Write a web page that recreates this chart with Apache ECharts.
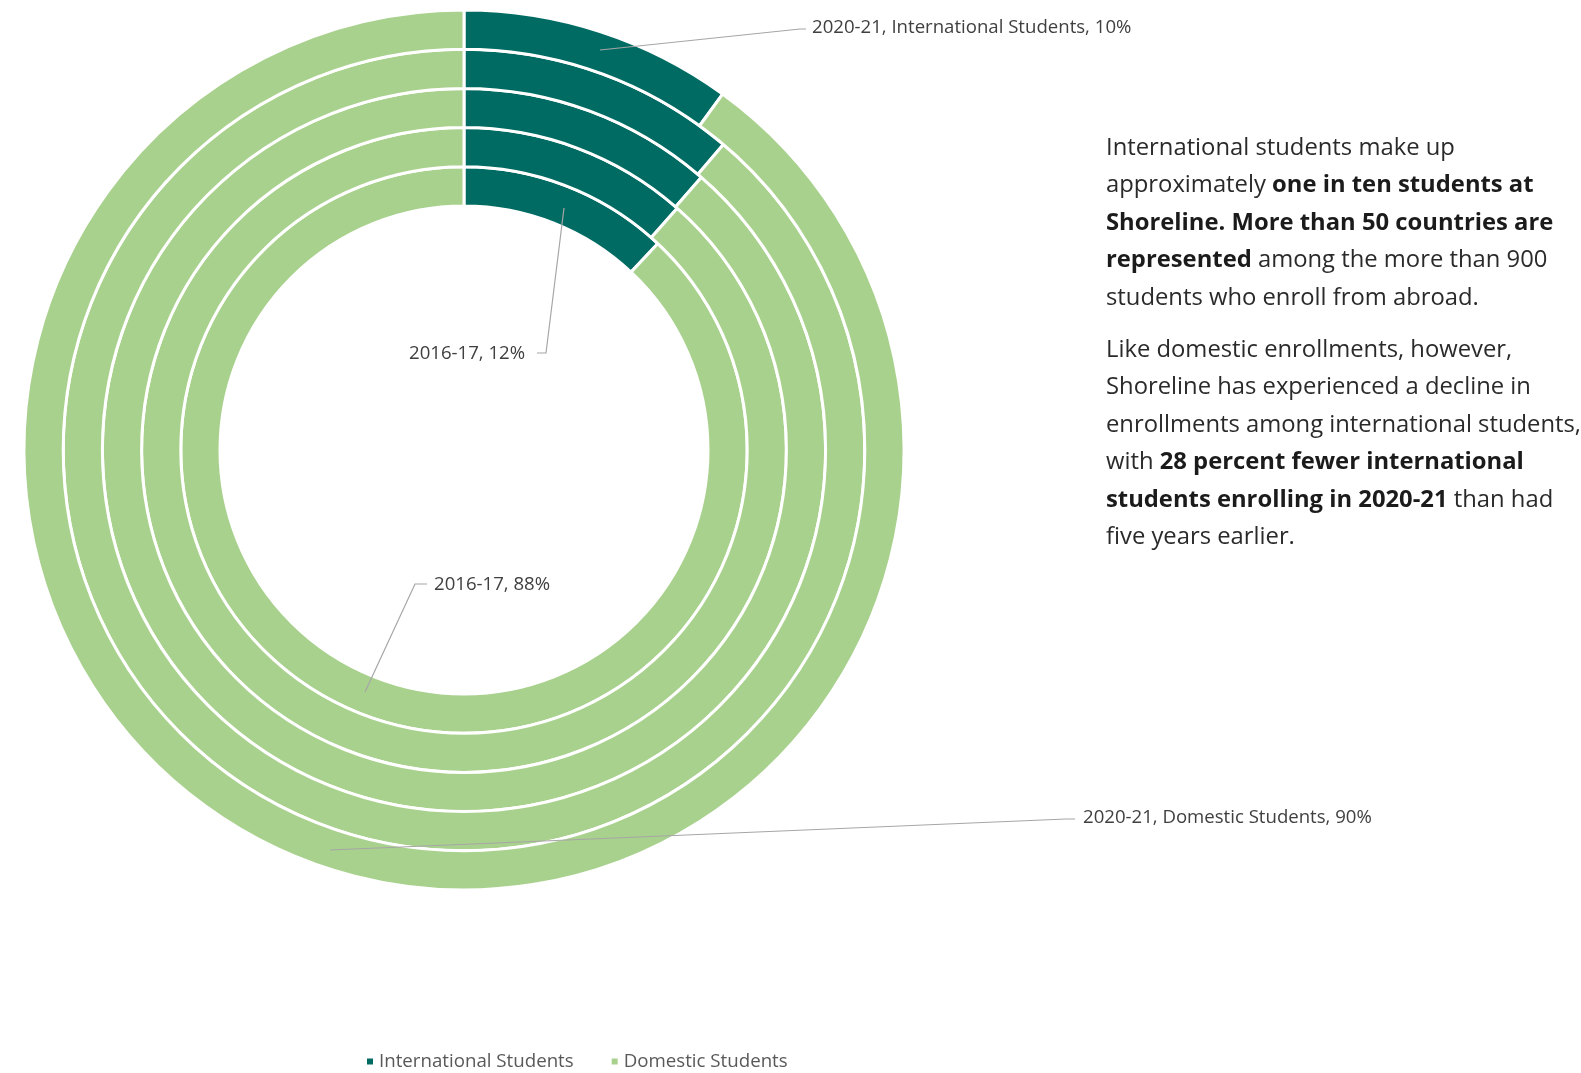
<!DOCTYPE html>
<html>
<head>
<meta charset="utf-8">
<title>International vs Domestic Students</title>
<script src="https://cdn.jsdelivr.net/npm/echarts@6/dist/echarts.min.js"></script>
<style>
  html, body { margin: 0; padding: 0; background: #ffffff; }
  #chart { width: 1581px; height: 1073px; }
</style>
</head>
<body>
<div id="chart"></div>
<script>
// Academic years, innermost ring first
const years = ['2016-17', '2017-18', '2018-19', '2019-20', '2020-21'];
const categories = ['International Students', 'Domestic Students'];
// Share of enrollment (%) per year
const internationalShare = [12, 11.5, 11.4, 11.2, 10];
const domesticShare = [88, 88.5, 88.6, 88.8, 90];

const COLORS = ['#006B63', '#A9D18E'];
const LABEL_FONT = '"Open Sans", Lato, sans-serif';
const TEXT_FONT = '"Open Sans", Roboto, sans-serif';

// Ring geometry
const center = [464, 450];
const innerRadius = 244;
const ringWidth = 39.2;

// Callout placement for the annotated slices (series-dataIndex)
const callouts = {
  '0-0': { x: 409, y: 354, line: [[564, 208], [546, 353], [537, 353]] },
  '0-1': { x: 434, y: 585, line: [[365, 692], [415, 584], [427, 584]] },
  '4-0': { x: 812, y: 28,  line: [[600, 50], [800, 29], [806, 29]] },
  '4-1': { x: 1083, y: 818, line: [[330, 850], [1066, 819], [1075, 819]] }
};

const lastRing = years.length - 1;

const series = years.map((year, i) => {
  const values = [internationalShare[i], domesticShare[i]];
  const showLabel = i === 0 || i === lastRing;
  return {
    type: 'pie',
    name: year,
    center: center,
    radius: [innerRadius + i * ringWidth, innerRadius + (i + 1) * ringWidth],
    startAngle: 90,
    clockwise: true,
    avoidLabelOverlap: false,
    silent: true,
    itemStyle: { borderColor: '#ffffff', borderWidth: 3 },
    label: {
      show: showLabel,
      position: 'outside',
      fontFamily: LABEL_FONT,
      fontSize: 18.6,
      color: '#404040',
      formatter: (p) => i === lastRing
        ? `${year}, ${p.name}, ${p.value}%`
        : `${year}, ${p.value}%`
    },
    labelLine: { show: false },
    labelLayout: (p) => {
      const c = callouts[p.seriesIndex + '-' + p.dataIndex];
      if (!c) return {};
      return { x: c.x, y: c.y, align: 'left', verticalAlign: 'middle' };
    },
    data: categories.map((name, k) => ({
      name: name,
      value: values[k],
      itemStyle: { color: COLORS[k] }
    }))
  };
});

// Leader lines from the slices to their callouts
const leaderLines = Object.keys(callouts).map((key) => ({
  type: 'polyline',
  silent: true,
  z: 10,
  shape: { points: callouts[key].line },
  style: { stroke: '#a6a6a6', lineWidth: 1.2, fill: null }
}));

const paraStyle = {
  fontFamily: TEXT_FONT,
  fontSize: 23.8,
  lineHeight: 37.5,
  fill: '#2a2a2a',
  rich: {
    b: { fontFamily: TEXT_FONT, fontSize: 23.8, lineHeight: 37.5, fontWeight: 'bold', fill: '#1b1b1b' }
  }
};

const paragraph1 = [
  'International students make up',
  'approximately {b|one in ten students at}',
  '{b|Shoreline. More than 50 countries are}',
  '{b|represented} among the more than 900',
  'students who enroll from abroad.'
].join('\n');

const paragraph2 = [
  'Like domestic enrollments, however,',
  'Shoreline has experienced a decline in',
  'enrollments among international students,',
  'with {b|28 percent fewer international}',
  '{b|students enrolling in 2020-21} than had',
  'five years earlier.'
].join('\n');

const chart = echarts.init(document.getElementById('chart'), null, { renderer: 'canvas' });
chart.setOption({
  animation: false,
  backgroundColor: '#ffffff',
  color: COLORS,
  legend: {
    data: categories,
    left: 360,
    top: 1047,
    icon: 'rect',
    itemWidth: 8,
    itemHeight: 8,
    itemGap: 36,
    selectedMode: false,
    textStyle: { fontFamily: LABEL_FONT, fontSize: 18.7, color: '#595959' }
  },
  series: series,
  graphic: leaderLines.concat([
    { type: 'text', left: 1106, top: 129, style: Object.assign({ text: paragraph1 }, paraStyle) },
    { type: 'text', left: 1106, top: 331, style: Object.assign({ text: paragraph2 }, paraStyle) }
  ])
});
</script>
</body>
</html>
